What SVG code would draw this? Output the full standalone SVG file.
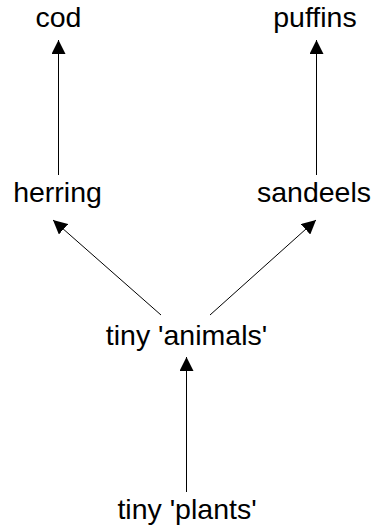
<svg xmlns="http://www.w3.org/2000/svg" width="375" height="530" viewBox="0 0 375 530">
<style>
text{font-family:"Liberation Sans",Arial,sans-serif;font-size:28.5px;fill:#000;text-anchor:middle}
.c line{stroke:#000;stroke-width:1;marker-end:url(#ah)}
</style>
<defs>
<marker id="ah" markerUnits="userSpaceOnUse" markerWidth="14" markerHeight="14" viewBox="0 0 12 12" refX="12" refY="6" orient="auto">
<path d="M0,0 L12,6 L0,12 Z" fill="#000"/>
</marker>
</defs>
<rect width="375" height="530" fill="#fff"/>
<g class="c" id="connectors">
<line x1="58.5" y1="175" x2="58.5" y2="40"/>
<line x1="316.5" y1="175" x2="316.5" y2="40"/>
<line x1="161" y1="315" x2="53" y2="220"/>
<line x1="210" y1="315" x2="316" y2="220"/>
<line x1="186.5" y1="492" x2="186.5" y2="357"/>
</g>
<g id="cod"><text x="58.5" y="27">cod</text></g>
<g id="puffins"><text x="315" y="27">puffins</text></g>
<g id="herring"><text x="57.5" y="202">herring</text></g>
<g id="sandeels"><text x="314" y="202">sandeels</text></g>
<g id="animals"><text x="186.5" y="345">tiny 'animals'</text></g>
<g id="plants"><text x="187" y="519">tiny 'plants'</text></g>
</svg>
